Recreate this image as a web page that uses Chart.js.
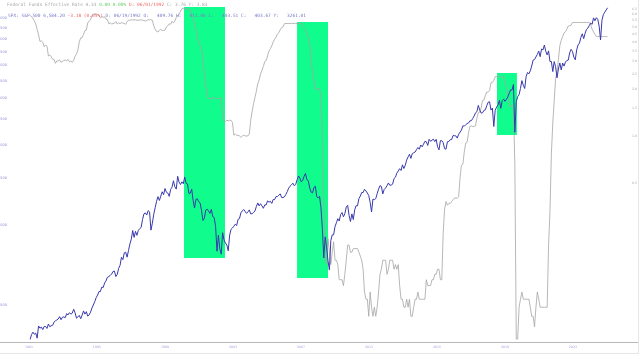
<!DOCTYPE html>
<html>
<head>
<meta charset="utf-8">
<script src="https://cdn.jsdelivr.net/npm/chart.js@4.4.1/dist/chart.umd.min.js"></script>
<style>
  html, body { margin: 0; padding: 0; background: #ffffff; }
  #wrap { position: relative; width: 640px; height: 354px; overflow: hidden; background: #fff; }
  #c { position: absolute; left: 0; top: 0; }
  #frame { position: absolute; left: 0; top: 0; width: 638px; height: 353px;
           border-right: 1px solid #e6e6e6; border-bottom: 1px solid #e6e6e6; pointer-events: none; }
  #axisline { position: absolute; left: 0; top: 342px; width: 638px; height: 1px; background: #b8b8b8; }
  .leg { position: absolute; font-family: "DejaVu Sans Mono", "Liberation Mono", monospace;
         font-size: 4.5px; line-height: 5px; white-space: pre; }
  #leg1 { left: 7px; top: 2px; color: #a8a8a8; }
  #leg2 { left: 8px; top: 13px; color: #7b7bc8; }
  .g { color: #66cc66; }
  .r { color: #ee6666; }
</style>
</head>
<body>
<div id="wrap">
  <canvas id="c" width="640" height="354"></canvas>
  <div id="axisline"></div>
  <div id="frame"></div>
  <div class="leg" id="leg1">Federal Funds Effective Rate 4.33 <span class="g">0.00 0.00%</span> <span class="r">D: 06/01/1992</span> C: 3.76 Y: 3.83</div>
  <div class="leg" id="leg2">SPX: S&amp;P 500 6,584.20 <span class="r">-3.18 (0.05%)</span> D: 06/19/1992 O:   409.76 H:   411.66 L:   403.51 C:   403.67 Y:   3261.01</div>
</div>
<script>
// ---------- DATA ----------
// Monthly series, first month = June 1991
const seriesStartYear = 1991.458;
const spxMonthly = [
  371, 387, 395, 388, 392, 375, 417,
  409, 413, 404, 415, 415, 408, 424, 414, 418, 419, 431, 436,
  439, 443, 452, 440, 450, 451, 448, 464, 459, 468, 462, 466,
  482, 467, 446, 451, 457, 444, 458, 475, 462, 472, 454, 459,
  470, 487, 500, 515, 533, 545, 562, 562, 584, 582, 605, 616,
  636, 640, 646, 654, 669, 671, 640, 652, 687, 705, 757, 741,
  786, 791, 757, 801, 848, 885, 954, 899, 947, 915, 955, 970,
  980, 1049, 1102, 1112, 1091, 1134, 1121, 957, 1017, 1099, 1164, 1229,
  1280, 1238, 1286, 1335, 1302, 1373, 1329, 1320, 1283, 1363, 1389, 1469,
  1394, 1366, 1527, 1452, 1421, 1455, 1431, 1518, 1437, 1429, 1315, 1320,
  1366, 1240, 1160, 1249, 1256, 1224, 1211, 1134, 1041, 1060, 1139, 1148,
  1130, 1107, 1147, 1076, 1067, 990, 797, 916, 815, 777, 936, 880,
  856, 841, 800, 917, 964, 975, 990, 1008, 996, 1051, 1058, 1112,
  1131, 1145, 1126, 1107, 1121, 1141, 1102, 1104, 1115, 1130, 1174, 1212,
  1181, 1204, 1181, 1157, 1192, 1191, 1234, 1220, 1229, 1207, 1249, 1248,
  1280, 1281, 1295, 1311, 1270, 1270, 1277, 1304, 1336, 1378, 1401, 1418,
  1438, 1407, 1421, 1482, 1531, 1503, 1455, 1474, 1527, 1565, 1481, 1468,
  1379, 1331, 1323, 1386, 1400, 1280, 1267, 1283, 1165, 969, 752, 903,
  826, 735, 677, 873, 919, 919, 987, 1021, 1057, 1036, 1096, 1115,
  1074, 1104, 1169, 1187, 1089, 1031, 1102, 1049, 1141, 1183, 1181, 1258,
  1286, 1327, 1326, 1364, 1345, 1321, 1292, 1219, 1120, 1253, 1247, 1258,
  1312, 1366, 1408, 1398, 1310, 1362, 1379, 1407, 1441, 1412, 1416, 1426,
  1498, 1515, 1569, 1598, 1631, 1606, 1686, 1633, 1682, 1757, 1806, 1848,
  1783, 1859, 1872, 1884, 1924, 1960, 1931, 2003, 1972, 2018, 2068, 2059,
  1995, 2105, 2068, 2086, 2107, 2063, 2104, 1972, 1920, 2079, 2080, 2044,
  1940, 1932, 2060, 2065, 2097, 2099, 2174, 2171, 2168, 2126, 2199, 2239,
  2279, 2364, 2363, 2384, 2412, 2423, 2470, 2472, 2519, 2575, 2648, 2674,
  2824, 2714, 2641, 2648, 2705, 2718, 2816, 2902, 2914, 2712, 2760, 2351,
  2704, 2784, 2834, 2946, 2752, 2942, 2980, 2926, 2977, 3038, 3141, 3231,
  3226, 3386, 2237, 2912, 3044, 3100, 3271, 3500, 3363, 3270, 3622, 3756,
  3714, 3811, 3973, 4181, 4204, 4298, 4395, 4523, 4308, 4605, 4567, 4766,
  4516, 4374, 4530, 4132, 4132, 3785, 4130, 3955, 3586, 3872, 4080, 3840,
  4077, 3970, 4109, 4169, 4180, 4450, 4589, 4508, 4288, 4194, 4568, 4770,
  4846, 5096, 5254, 5036, 5278, 5460, 5522, 5648, 5762, 5705, 6032, 5882,
  6041, 5955, 5612, 4982, 5912, 6205, 6339, 6460, 6584
];
const fedMonthly = [
  5.90, 5.82, 5.66, 5.45, 5.21, 4.81, 4.43,
  4.03, 4.06, 3.98, 3.73, 3.82, 3.76, 3.25, 3.30, 3.22, 3.10, 3.09, 2.92,
  3.02, 3.03, 3.07, 2.96, 3.00, 3.04, 3.06, 3.03, 3.09, 2.99, 3.02, 2.96,
  3.05, 3.25, 3.34, 3.56, 4.01, 4.25, 4.26, 4.47, 4.73, 4.76, 5.29, 5.45,
  5.53, 5.92, 5.98, 6.05, 6.01, 6.00, 5.85, 5.74, 5.80, 5.76, 5.80, 5.60,
  5.56, 5.22, 5.31, 5.22, 5.24, 5.27, 5.40, 5.22, 5.30, 5.24, 5.31, 5.29,
  5.25, 5.19, 5.39, 5.51, 5.50, 5.56, 5.52, 5.54, 5.54, 5.50, 5.52, 5.50,
  5.56, 5.51, 5.49, 5.45, 5.49, 5.56, 5.54, 5.55, 5.51, 5.07, 4.83, 4.68,
  4.63, 4.76, 4.81, 4.74, 4.74, 4.76, 4.99, 5.07, 5.22, 5.20, 5.42, 5.30,
  5.45, 5.73, 5.85, 6.02, 6.27, 6.53, 6.54, 6.50, 6.52, 6.51, 6.51, 6.40,
  5.98, 5.49, 5.31, 4.80, 4.21, 3.97, 3.77, 3.65, 3.07, 2.49, 2.09, 1.82,
  1.73, 1.74, 1.73, 1.75, 1.75, 1.75, 1.73, 1.74, 1.75, 1.75, 1.34, 1.24,
  1.24, 1.26, 1.25, 1.26, 1.26, 1.22, 1.01, 1.03, 1.01, 1.01, 1.00, 0.98,
  1.00, 1.01, 1.00, 1.00, 1.00, 1.03, 1.26, 1.43, 1.61, 1.76, 1.93, 2.16,
  2.28, 2.50, 2.63, 2.79, 3.00, 3.04, 3.26, 3.50, 3.62, 3.78, 4.00, 4.16,
  4.29, 4.49, 4.59, 4.79, 4.94, 4.99, 5.24, 5.25, 5.25, 5.25, 5.25, 5.24,
  5.25, 5.26, 5.26, 5.25, 5.25, 5.25, 5.26, 5.02, 4.94, 4.76, 4.49, 4.24,
  3.94, 2.98, 2.61, 2.28, 1.98, 2.00, 2.01, 2.00, 1.81, 0.97, 0.39, 0.16,
  0.15, 0.22, 0.18, 0.15, 0.18, 0.21, 0.16, 0.16, 0.15, 0.12, 0.12, 0.12,
  0.11, 0.13, 0.16, 0.20, 0.20, 0.18, 0.18, 0.19, 0.19, 0.19, 0.19, 0.18,
  0.17, 0.16, 0.14, 0.10, 0.09, 0.09, 0.07, 0.10, 0.08, 0.07, 0.08, 0.07,
  0.08, 0.10, 0.13, 0.14, 0.16, 0.16, 0.16, 0.13, 0.14, 0.16, 0.16, 0.16,
  0.14, 0.15, 0.14, 0.15, 0.11, 0.09, 0.09, 0.08, 0.08, 0.09, 0.08, 0.09,
  0.07, 0.07, 0.08, 0.09, 0.09, 0.10, 0.09, 0.09, 0.09, 0.09, 0.09, 0.12,
  0.11, 0.11, 0.11, 0.12, 0.12, 0.13, 0.13, 0.14, 0.14, 0.12, 0.12, 0.24,
  0.34, 0.38, 0.36, 0.37, 0.37, 0.38, 0.39, 0.40, 0.40, 0.40, 0.41, 0.54,
  0.65, 0.66, 0.79, 0.90, 0.91, 1.04, 1.15, 1.16, 1.15, 1.15, 1.16, 1.30,
  1.41, 1.42, 1.51, 1.69, 1.70, 1.82, 1.91, 1.91, 1.95, 2.19, 2.20, 2.27,
  2.40, 2.40, 2.41, 2.42, 2.39, 2.38, 2.40, 2.13, 2.04, 1.83, 1.55, 1.55,
  1.55, 1.58, 0.65, 0.05, 0.05, 0.08, 0.09, 0.10, 0.09, 0.09, 0.09, 0.09,
  0.09, 0.08, 0.07, 0.07, 0.06, 0.08, 0.10, 0.09, 0.08, 0.08, 0.08, 0.08,
  0.08, 0.08, 0.20, 0.33, 0.77, 1.21, 1.68, 2.33, 2.56, 3.08, 3.78, 4.10,
  4.33, 4.57, 4.65, 4.83, 5.06, 5.08, 5.12, 5.33, 5.33, 5.33, 5.33, 5.33,
  5.33, 5.33, 5.33, 5.33, 5.33, 5.33, 5.33, 5.33, 5.13, 4.83, 4.64, 4.48,
  4.33, 4.33, 4.33, 4.33, 4.33, 4.33, 4.33, 4.33, 4.33
];
// Highlight boxes (x in years, y in S&P units)
const boxStart  = [2000.58, 2007.29, 2019.15];
const boxEnd    = [2003.02, 2009.13, 2020.33];
const boxTop    = [6630, 5820, 3740];
const boxBottom = [751, 632, 2184];
// Axis ticks
const xTickValues = [1991.39, 1995.42, 1999.46, 2003.49, 2007.52, 2011.56, 2015.59, 2019.62, 2023.65];
const xTickLabels = ['1991', '1995', '1999', '2003', '2007', '2011', '2015', '2019', '2023'];
const spxTicks = [500, 1000, 1500, 2000, 2500, 3000, 3500, 4000, 4500, 5000, 5500, 6000];
const fedTicks = [0.5, 1.0, 1.5, 2.0, 2.5, 3.0, 3.5, 4.0, 4.5, 5.0, 5.5, 6.0, 6.5];

// ---------- BUILD ----------
const spxPoints = spxMonthly.map((v, i) => ({ x: seriesStartYear + i / 12, y: v }));
const fedPoints = fedMonthly.map((v, i) => ({ x: seriesStartYear + i / 12, y: v }));

const GREEN = '#10fc8c';
const datasets = [];
for (let b = 0; b < boxStart.length; b++) {
  datasets.push({
    data: [{ x: boxStart[b], y: boxTop[b] }, { x: boxEnd[b], y: boxTop[b] }],
    yAxisID: 'ySpx', borderWidth: 0, pointRadius: 0, backgroundColor: GREEN,
    fill: '+1', order: 10
  });
  datasets.push({
    data: [{ x: boxStart[b], y: boxBottom[b] }, { x: boxEnd[b], y: boxBottom[b] }],
    yAxisID: 'ySpx', borderWidth: 0, pointRadius: 0, fill: false, order: 10
  });
}
datasets.push({
  data: fedPoints, yAxisID: 'yFed', borderColor: '#a4a4a4', borderWidth: 0.8,
  pointRadius: 0, fill: false, tension: 0, order: 2
});
datasets.push({
  data: spxPoints, yAxisID: 'ySpx', borderColor: '#3838ac', borderWidth: 1.0,
  pointRadius: 0, fill: false, tension: 0, order: 1
});

const noGrid = { display: false, drawTicks: false };
const fitV = w => s => { s.width = w; s.paddingTop = 0; s.paddingBottom = 0; };
const chart = new Chart(document.getElementById('c'), {
  type: 'line',
  data: { datasets },
  options: {
    responsive: false, animation: false,
    layout: { padding: { top: 4, left: 0, right: 0, bottom: 0 } },
    plugins: { legend: { display: false }, tooltip: { enabled: false } },
    scales: {
      x: {
        type: 'linear', min: 1990.264, max: 2026.207,
        grid: noGrid, border: { display: false },
        afterBuildTicks: s => { s.ticks = xTickValues.map(v => ({ value: v })); },
        afterFit: s => { s.height = 12; s.paddingLeft = 0; s.paddingRight = 0; },
        ticks: { font: { family: 'DejaVu Sans', size: 3.2 }, color: '#a4a4dc', padding: 3,
                 maxRotation: 0, autoSkip: false, callback: (v, i) => xTickLabels[i] }
      },
      ySpx: {
        type: 'logarithmic', position: 'left', min: 362.8, max: 6803,
        grid: noGrid, border: { display: false },
        afterBuildTicks: s => { s.ticks = spxTicks.map(v => ({ value: v })); },
        afterFit: fitV(10),
        ticks: { font: { family: 'DejaVu Sans', size: 3.5 }, color: '#8c8cd4', padding: 3,
                 autoSkip: false, callback: v => String(v) }
      },
      yFed: {
        type: 'logarithmic', position: 'right', min: 0.0479, max: 7.0,
        grid: noGrid, border: { display: false },
        afterBuildTicks: s => { s.ticks = fedTicks.map(v => ({ value: v })); },
        afterFit: fitV(24),
        ticks: { font: { family: 'DejaVu Sans', size: 3.2 }, color: '#a8a8a8', padding: 16,
                 autoSkip: false, callback: v => Number(v).toFixed(1) }
      }
    }
  }
});
</script>
</body>
</html>
